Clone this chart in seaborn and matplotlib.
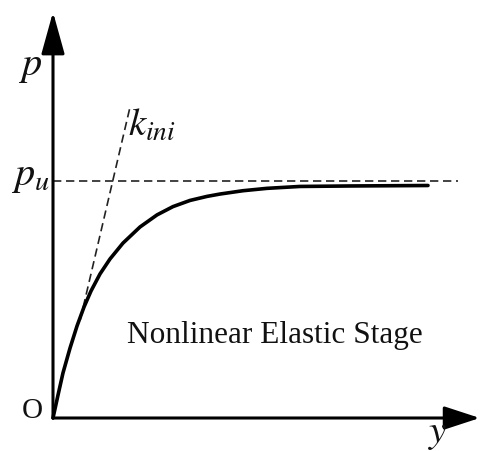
import numpy as np
import pandas as pd
import matplotlib
matplotlib.use("Agg")
import matplotlib.pyplot as plt
import seaborn as sns

# curve (y displacement, p load), p_u = 1
curve_y = [0.0, 0.067, 0.133, 0.227, 0.320, 0.413, 0.507, 0.627, 0.760, 0.933,
           1.160, 1.387, 1.600, 1.827, 2.053, 2.227, 2.533, 2.853, 3.293, 3.960, 5.0]
curve_p = [0.0, 0.097, 0.190, 0.295, 0.388, 0.468, 0.536, 0.608, 0.671, 0.738,
           0.806, 0.857, 0.892, 0.918, 0.935, 0.945, 0.959, 0.969, 0.977, 0.979, 0.981]

# initial stiffness tangent (visible part) and ultimate load line
tangent_y = [0.363, 1.027]
tangent_p = [0.414, 1.312]
pu_y = [0.0, 5.4]
pu_p = [1.0, 1.0]

# axis ends
x_tip = 5.69
y_tip = 1.713

sns.set_theme(style="white")
plt.rcParams["font.family"] = ["Liberation Serif", "DejaVu Serif"]
plt.rcParams["mathtext.fontset"] = "stix"

fig = plt.figure(figsize=(4.82, 4.51), dpi=100)
ax = fig.add_axes([0, 0, 1, 1])
ax.set_xlim(-53 / 75, (482 - 53) / 75)
ax.set_ylim((418 - 451) / 237, 418 / 237)
ax.axis("off")

df = pd.DataFrame({"y": curve_y, "p": curve_p})
sns.lineplot(data=df, x="y", y="p", ax=ax, color="black", lw=2.6, sort=False,
             zorder=3, solid_joinstyle="round", solid_capstyle="round")

ax.plot(tangent_y, tangent_p, color="#222222", lw=1.2, dashes=(5, 2.8), zorder=2)
ax.plot(pu_y, pu_p, color="#222222", lw=1.2, dashes=(5, 2.8), zorder=2)

# axes with arrow heads
ax.annotate("", xy=(0, y_tip), xytext=(0, 0),
            arrowprops=dict(arrowstyle="-|>,head_length=1.3,head_width=0.36",
                            mutation_scale=20, lw=2.2, color="black",
                            shrinkA=0, shrinkB=0))
ax.annotate("", xy=(x_tip, 0), xytext=(0, 0),
            arrowprops=dict(arrowstyle="-|>,head_length=1.1,head_width=0.36",
                            mutation_scale=20, lw=2.2, color="black",
                            shrinkA=0, shrinkB=0))

txt = "#111111"
ax.text(-0.307, 1.485, r"$p$", fontsize=29, ha="center", va="center", color=txt)
ax.text(-0.30, 1.02, r"$p_u$", fontsize=29, ha="center", va="center", color=txt)
ax.text(1.0, 1.23, r"$k_{ini}$", fontsize=28, ha="left", va="center", color=txt)
ax.text(-0.28, 0.03, "O", fontsize=21, ha="center", va="center", color=txt)
ax.text(5.13, -0.065, r"$y$", fontsize=28, ha="center", va="center", color=txt)
ax.text(2.96, 0.35, "Nonlinear Elastic Stage", fontsize=22.5, ha="center",
        va="center", color=txt)

fig.savefig("out.png", dpi=100)
